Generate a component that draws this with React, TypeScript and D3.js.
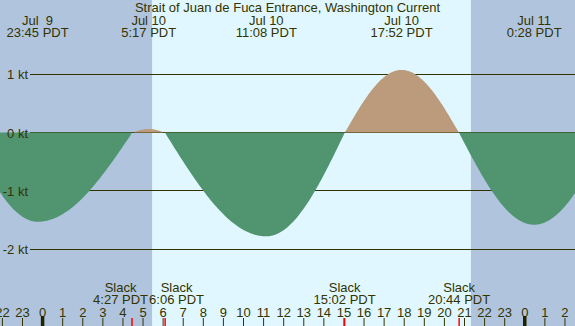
import React from "react";
import * as d3 from "d3";

const W = 575;
const H = 326;

const titleText = "Strait of Juan de Fuca Entrance, Washington Current";

// hours relative to Jul 10 00:00 PDT
const maxHours = [-0.25, 5.283, 11.133, 17.867, 24.467];
const maxKnots = [-1.52, 0.07, -1.77, 1.08, -1.57];
const maxDates = ["Jul  9", "Jul 10", "Jul 10", "Jul 10", "Jul 11"];
const maxTimes = ["23:45 PDT", "5:17 PDT", "11:08 PDT", "17:52 PDT", "0:28 PDT"];

const slackHours = [-3.75, 4.45, 6.1, 15.033, 20.733, 28.2];
const slackLabelHours = [4.45, 6.1, 15.033, 20.733];
const slackLabelTimes = ["4:27 PDT", "6:06 PDT", "15:02 PDT", "20:44 PDT"];

const sunriseHour = 5.45;
const sunsetHour = 21.32;

const yTicks = [1, 0, -1, -2];
const hourTicks = d3.range(-2, 27);

const C = {
  night: "#b0c4de",
  day: "#e0f7ff",
  ebb: "#509470",
  flood: "#bb9b7b",
  text: "#333300",
  grid: "#333300",
};

const FONT = "'Liberation Sans', Arial, sans-serif";

export default function App() {
  const x = d3.scaleLinear().domain([-2.12, 26.5]).range([0, W]);
  const y = d3.scaleLinear().domain([0, 1]).range([133, 74.6]);

  const events = [
    ...maxHours.map((h, i) => ({ h, v: maxKnots[i], slack: false })),
    ...slackHours.map((h) => ({ h, v: 0, slack: true })),
  ].sort((a, b) => a.h - b.h);

  const pts: { h: number; v: number }[] = [];
  for (let i = 0; i < events.length - 1; i++) {
    const a = events[i];
    const b = events[i + 1];
    const ease = a.slack ? d3.easeSinOut : d3.easeSinIn;
    const n = 60;
    for (let k = 0; k < n; k++) {
      const t = k / n;
      pts.push({ h: a.h + (b.h - a.h) * t, v: a.v + (b.v - a.v) * ease(t) });
    }
  }
  const last = events[events.length - 1];
  pts.push({ h: last.h, v: last.v });

  const y0 = y(0) - 0.5;
  const ebbArea = d3
    .area<{ h: number; v: number }>()
    .x((d) => x(d.h))
    .y0(y0)
    .y1((d) => (d.v < 0 ? y(d.v) : y0));
  const floodArea = d3
    .area<{ h: number; v: number }>()
    .x((d) => x(d.h))
    .y0(y0)
    .y1((d) => (d.v > 0 ? y(d.v) : y0));

  const minSep = 56;
  const slackPos = slackLabelHours.map((h) => x(h));
  for (let i = 0; i < slackPos.length - 1; i++) {
    const d = slackPos[i + 1] - slackPos[i];
    if (d < minSep) {
      const mid = (slackPos[i] + slackPos[i + 1]) / 2;
      slackPos[i] = mid - minSep / 2;
      slackPos[i + 1] = mid + minSep / 2;
    }
  }

  return (
    <svg
      width={W}
      height={H}
      style={{ position: "absolute", left: 0, top: 0, fontFamily: FONT }}
    >
      <rect x={0} y={0} width={W} height={H} fill={C.night} />
      <rect
        x={x(sunriseHour)}
        y={0}
        width={x(sunsetHour) - x(sunriseHour)}
        height={H}
        fill={C.day}
      />
      {yTicks.map((k) => (
        <line
          key={"g" + k}
          x1={30}
          x2={W}
          y1={Math.round(y(k)) - 0.5}
          y2={Math.round(y(k)) - 0.5}
          stroke={C.grid}
          strokeWidth={1}
        />
      ))}
      <path d={floodArea(pts) || ""} fill={C.flood} />
      <path d={ebbArea(pts) || ""} fill={C.ebb} />
      {yTicks.map((k) => (
        <text
          key={"t" + k}
          x={28}
          y={y(k)}
          dy="0.35em"
          textAnchor="end"
          fontSize={13}
          fill={C.text}
        >
          {k} kt
        </text>
      ))}

      <text x={W / 2} y={12} textAnchor="middle" fontSize={13} fill={C.text}>
        {titleText}
      </text>
      {maxHours.map((h, i) => (
        <g key={"m" + i}>
          <text
            x={x(h)}
            y={24.5}
            textAnchor="middle"
            fontSize={13}
            fill={C.text}
            style={{ whiteSpace: "pre" }}
          >
            {maxDates[i]}
          </text>
          <text x={x(h)} y={36.5} textAnchor="middle" fontSize={13} fill={C.text}>
            {maxTimes[i]}
          </text>
        </g>
      ))}

      {slackLabelHours.map((h, i) => (
        <g key={"s" + i}>
          <text x={slackPos[i]} y={291.5} textAnchor="middle" fontSize={13} fill={C.text}>
            Slack
          </text>
          <text x={slackPos[i]} y={304} textAnchor="middle" fontSize={13} fill={C.text}>
            {slackLabelTimes[i]}
          </text>
        </g>
      ))}

      {hourTicks.map((h) => {
        const hr = ((h % 24) + 24) % 24;
        const mid = hr === 0;
        return (
          <g key={"h" + h}>
            <text x={x(h)} y={316.5} textAnchor="middle" fontSize={13} fill={C.text}>
              {hr}
            </text>
            <line
              x1={x(h)}
              x2={x(h)}
              y1={mid ? 316 : 318}
              y2={H}
              stroke={mid ? "#222200" : C.grid}
              strokeWidth={mid ? 3.5 : 1}
            />
          </g>
        );
      })}
      {slackLabelHours.map((h, i) => (
        <line
          key={"r" + i}
          x1={x(h)}
          x2={x(h)}
          y1={318}
          y2={H}
          stroke="#ff0000"
          strokeWidth={1.5}
        />
      ))}
    </svg>
  );
}
